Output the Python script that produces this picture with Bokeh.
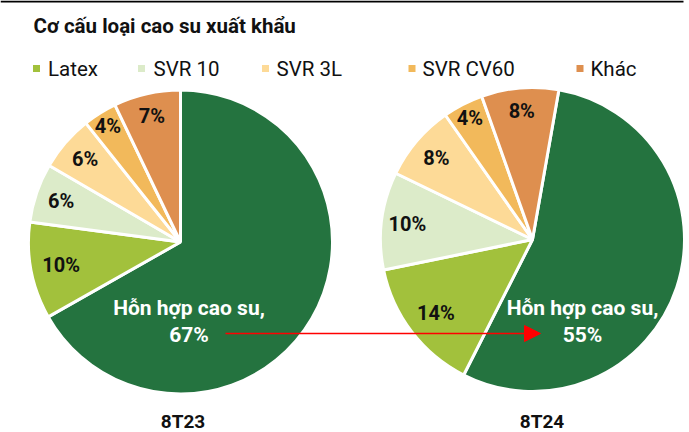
import math
from bokeh.plotting import figure
from bokeh.models import ColumnDataSource, Range1d, Arrow, NormalHead
from bokeh.core.properties import value
from bokeh.embed import file_html
from bokeh.resources import INLINE

# ---------------- data ----------------
title = "Cơ cấu loại cao su xuất khẩu"
categories = ["Hỗn hợp cao su", "Latex", "SVR 10", "SVR 3L", "SVR CV60", "Khác"]
legend_items = ["Latex", "SVR 10", "SVR 3L", "SVR CV60", "Khác"]
periods = ["8T23", "8T24"]
share_8T23 = [66.8, 10.3, 6.3, 5.9, 3.6, 7.1]
share_8T24 = [54.7, 14.3, 10.4, 8.1, 4.3, 8.2]

# ---------------- style ----------------
colors = ["#24733F", "#A2C13C", "#DCEBC9", "#FDDA97", "#F2B95B", "#DE8F4F"]
FONT = value("Roboto")
W, H = 689, 432
R = 152
pie_specs = [
    # center x, center y (page px), first-slice rotation (deg), big label x, period label x
    dict(cx=180, cy=241.5, rot=0.0, big_x=188.5, per_x=182.5),
    dict(cx=532, cy=239.0, rot=10.0, big_x=582.0, per_x=541.5),
]
label_frac = [None, 0.80, 0.83, 0.83, 0.90, 0.85]

def Y(page_y):
    return H - page_y

p = figure(width=W, height=H, x_range=Range1d(0, W), y_range=Range1d(0, H),
           output_backend="svg", toolbar_location=None, min_border=0,
           x_axis_location=None, y_axis_location=None)
p.grid.visible = False
p.outline_line_color = None
p.background_fill_color = "white"
p.border_fill_color = "white"

# top rule
p.line(x=[0, 683], y=[Y(1), Y(1)], line_color="black", line_width=2)

# title
p.text(x=[33], y=[Y(25)], text=[title], text_font=FONT, text_font_style="bold",
       text_font_size="20.5px", text_color="#111111", text_align="left",
       text_baseline="middle")

# legend
leg_marker_x = [36, 141, 265, 411.5, 579.5]
leg_text_x = [47.5, 153, 276, 422, 590]
p.scatter(x=leg_marker_x, y=[Y(68)] * 5, marker="square", size=7,
          fill_color=colors[1:], line_color=None)
p.text(x=leg_text_x, y=[Y(68)] * 5, text=legend_items, text_font=FONT,
       text_font_size="20.5px", text_color="#111111", text_align="left",
       text_baseline="middle")

for spec, shares, period in zip(pie_specs, [share_8T23, share_8T24], periods):
    total = sum(shares)
    starts, ends = [], []
    acc = spec["rot"]
    for v in shares:
        a0 = acc
        a1 = acc + v / total * 360.0
        starts.append(a0)
        ends.append(a1)
        acc = a1
    # convert clockwise-from-top to bokeh angles (ccw from +x)
    src = ColumnDataSource(dict(
        start=[math.radians(90 - e) for e in ends],
        end=[math.radians(90 - s) for s in starts],
        color=colors,
        name=categories,
    ))
    p.wedge(x=spec["cx"], y=Y(spec["cy"]), radius=R, start_angle="start",
            end_angle="end", direction="anticlock", fill_color="color",
            line_color="white", line_width=3, source=src)

    # small slice labels
    lx, ly, lt = [], [], []
    for i in range(1, len(shares)):
        mid = math.radians((starts[i] + ends[i]) / 2)
        rr = label_frac[i] * R
        lx.append(spec["cx"] + rr * math.sin(mid))
        ly.append(Y(spec["cy"] - rr * math.cos(mid)))
        lt.append(f"{round(shares[i])}%")
    p.text(x=lx, y=ly, text=lt, text_font=FONT, text_font_style="bold",
           text_font_size="20px", text_color="#111111", text_align="center",
           text_baseline="middle")

    # big slice label
    p.text(x=[spec["big_x"], spec["big_x"]], y=[Y(307), Y(334)],
           text=[categories[0] + ",", f"{round(shares[0])}%"], text_font=FONT,
           text_font_style="bold", text_font_size="21px", text_color="white",
           text_align="center", text_baseline="middle")

    # period label
    p.text(x=[spec["per_x"]], y=[Y(420.5)], text=[period], text_font=FONT,
           text_font_style="bold", text_font_size="19px", text_color="#111111",
           text_align="center", text_baseline="middle")

# red arrow between the two main shares
p.add_layout(Arrow(x_start=225, y_start=Y(333), x_end=540, y_end=Y(333),
                   line_color="#FF0000", line_width=1.5,
                   end=NormalHead(size=16, fill_color="#FF0000", line_color="#FF0000")))

html = file_html(p, INLINE, title=title)
html = html.replace("<head>", "<head><style>html, body {margin:0; padding:0; overflow:hidden;}</style>", 1)
open("out.html", "w").write(html)
